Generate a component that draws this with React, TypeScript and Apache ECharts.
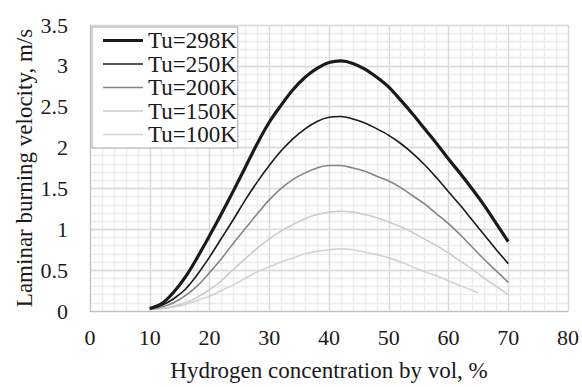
import React, { useEffect, useRef } from "react";
import * as echarts from "echarts";

const xs = [10, 12, 14, 16, 18, 20, 22, 24, 26, 28, 30, 32, 34, 36, 38, 40, 42, 44, 46, 48, 50, 52, 54, 56, 58, 60, 62, 64, 66, 68, 70];
const xs100 = [10, 12, 14, 16, 18, 20, 22, 24, 26, 28, 30, 32, 34, 36, 38, 40, 42, 44, 46, 48, 50, 52, 54, 56, 58, 60, 62, 64, 65];
const tu298 = [0.03, 0.09, 0.23, 0.42, 0.66, 0.92, 1.19, 1.47, 1.76, 2.05, 2.31, 2.52, 2.71, 2.86, 2.97, 3.04, 3.06, 3.03, 2.96, 2.86, 2.74, 2.58, 2.41, 2.23, 2.05, 1.86, 1.68, 1.49, 1.29, 1.07, 0.85];
const tu250 = [0.03, 0.07, 0.15, 0.27, 0.45, 0.66, 0.89, 1.12, 1.36, 1.58, 1.78, 1.96, 2.11, 2.23, 2.32, 2.37, 2.38, 2.35, 2.3, 2.23, 2.15, 2.05, 1.93, 1.79, 1.63, 1.46, 1.29, 1.11, 0.93, 0.75, 0.58];
const tu200 = [0.02, 0.05, 0.1, 0.19, 0.31, 0.47, 0.64, 0.83, 1.01, 1.19, 1.36, 1.5, 1.61, 1.69, 1.75, 1.78, 1.78, 1.75, 1.71, 1.65, 1.59, 1.51, 1.41, 1.31, 1.19, 1.07, 0.93, 0.78, 0.63, 0.49, 0.35];
const tu150 = [0.02, 0.03, 0.06, 0.1, 0.17, 0.26, 0.37, 0.51, 0.64, 0.77, 0.88, 0.98, 1.06, 1.13, 1.18, 1.21, 1.22, 1.21, 1.18, 1.14, 1.09, 1.03, 0.96, 0.88, 0.8, 0.71, 0.61, 0.51, 0.4, 0.3, 0.2];
const tu100 = [0.02, 0.03, 0.05, 0.08, 0.13, 0.18, 0.25, 0.32, 0.4, 0.48, 0.54, 0.6, 0.65, 0.7, 0.73, 0.75, 0.76, 0.75, 0.72, 0.69, 0.65, 0.6, 0.54, 0.48, 0.43, 0.37, 0.31, 0.25, 0.22];

const seriesNames = ["Tu=298K", "Tu=250K", "Tu=200K", "Tu=150K", "Tu=100K"];
const seriesX = [xs, xs, xs, xs, xs100];
const seriesValues = [tu298, tu250, tu200, tu150, tu100];
const seriesColors = ["#1a1a1a", "#1a1a1a", "#858585", "#cccccc", "#d3d3d3"];
const seriesWidths = [3.2, 1.6, 1.6, 1.6, 1.6];

const FONT = "Liberation Serif, Times New Roman, DejaVu Serif, serif";

export default function App() {
  const ref = useRef<HTMLDivElement>(null);
  useEffect(() => {
    if (!ref.current) return;
    const chart = echarts.init(ref.current, undefined, { renderer: "svg" });
    const minorAxis = {
      type: "value",
      show: true,
      z: 0,
      axisLine: { show: false },
      axisTick: { show: false },
      axisLabel: { show: false },
      splitLine: { show: true, lineStyle: { color: "#ececec", width: 1.3 } },
    };
    chart.setOption({
      animation: false,
      backgroundColor: "#ffffff",
      textStyle: { fontFamily: FONT, color: "#1a1a1a" },
      grid: { left: 90, right: 11, top: 25, bottom: 71, containLabel: false },
      legend: {
        left: 92,
        top: 27,
        orient: "vertical",
        backgroundColor: "#ffffff",
        borderColor: "#a6a6a6",
        borderWidth: 1,
        padding: [2, 1, 2, 11],
        itemWidth: 40,
        itemHeight: 14,
        itemGap: 0.5,
        textStyle: { fontFamily: FONT, fontSize: 23, color: "#1a1a1a", lineHeight: 23 },
        data: seriesNames.map((name, i) => ({
          name,
          icon: `path://M0,0H40V${seriesWidths[i]}H0Z`,
        })),
      },
      xAxis: [
        {
          type: "value",
          min: 0,
          max: 80,
          interval: 10,
          z: 2,
          name: "Hydrogen concentration by vol, %",
          nameLocation: "middle",
          nameGap: 48,
          nameMoveOverlap: false,
          nameTextStyle: { fontFamily: FONT, fontSize: 23, color: "#1a1a1a" },
          axisLine: { show: true, lineStyle: { color: "#bfbfbf", width: 1 } },
          axisTick: { show: false },
          axisLabel: { fontFamily: FONT, fontSize: 22, color: "#1a1a1a", margin: 15 },
          splitLine: { show: true, lineStyle: { color: "#d9d9d9", width: 1.3 } },
        },
        { ...minorAxis, min: 0, max: 80, interval: 2, position: "bottom" },
      ],
      yAxis: [
        {
          type: "value",
          min: 0,
          max: 3.5,
          interval: 0.5,
          z: 2,
          name: "Laminar burning velocity, m/s",
          nameLocation: "middle",
          nameGap: 54,
          nameMoveOverlap: false,
          nameTextStyle: { fontFamily: FONT, fontSize: 23, color: "#1a1a1a" },
          axisLine: { show: true, lineStyle: { color: "#bfbfbf", width: 1 } },
          axisTick: { show: false },
          axisLabel: { fontFamily: FONT, fontSize: 22, color: "#1a1a1a", margin: 22 },
          splitLine: { show: true, lineStyle: { color: "#d9d9d9", width: 1.3 } },
        },
        { ...minorAxis, min: 0, max: 3.5, interval: 0.1, position: "left" },
      ],
      series: seriesNames.map((name, i) => ({
        name,
        type: "line",
        xAxisIndex: 0,
        yAxisIndex: 0,
        smooth: 0.35,
        symbol: "none",
        z: 10 - i,
        lineStyle: { color: seriesColors[i], width: seriesWidths[i] },
        itemStyle: { color: seriesColors[i] },
        data: seriesValues[i].map((v, j) => [seriesX[i][j], v]),
      })),
    });
    return () => chart.dispose();
  }, []);
  return (
    <div
      ref={ref}
      style={{ position: "fixed", left: 0, top: 0, width: 582, height: 387 }}
    />
  );
}
